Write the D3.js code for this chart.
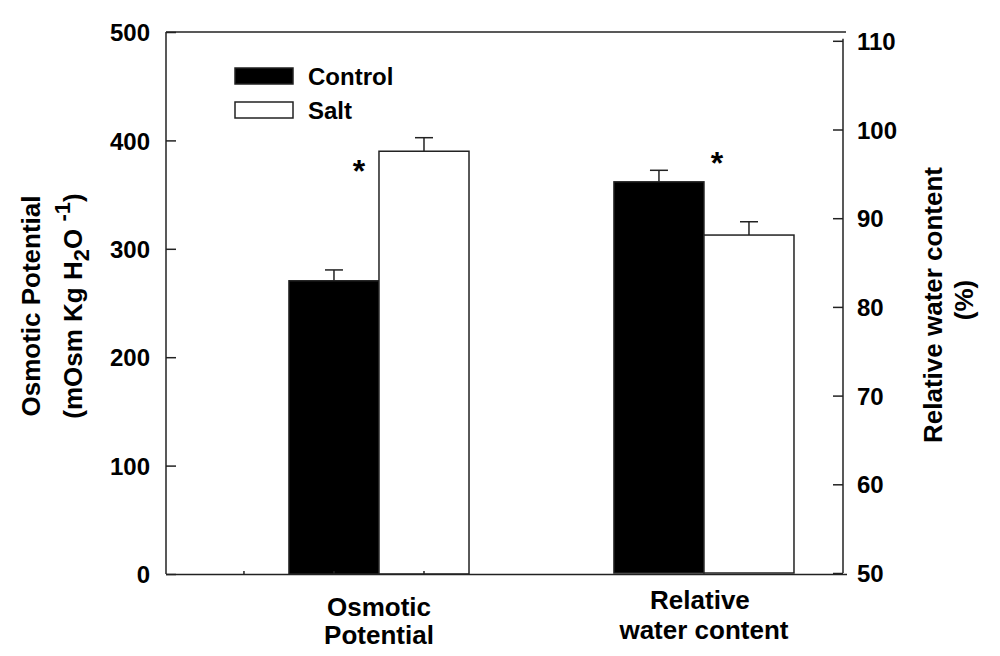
<!DOCTYPE html>
<html><head><meta charset="utf-8">
<script src="https://cdn.jsdelivr.net/npm/d3@7"></script>
<style>
body{margin:0;background:#fff}
text{font-family:"Liberation Sans",Arial,sans-serif;font-weight:bold;fill:#000}
</style>
</head><body><svg id="c" width="1000" height="656"></svg>
<script>
// ---- data ----
const categories = ["Osmotic Potential", "Relative water content"];
const categoryLabels = [["Osmotic", "Potential"], ["Relative", "water content"]];
const seriesNames = ["Control", "Salt"];
const controlValues = [270.5, 94.1];
const controlErrors = [10, 1.3];
const saltValues = [390, 88.1];
const saltErrors = [12.5, 1.5];
const leftTicks = [0, 100, 200, 300, 400, 500];
const rightTicks = [50, 60, 70, 80, 90, 100, 110];
const starLevels = [378.7, 97.1];   // asterisk heights, in each category's own axis units
const axisOf = ["left", "right"];

// ---- layout ----
const svg = d3.select("#c");
const L = 166, R = 843, T = 32, B = 574;

const yL = d3.scaleLinear().domain([0, 500]).range([B, T]);
const yR = d3.scaleLinear().domain([50, 110]).range([573, 40.8]);
const yOf = i => axisOf[i] === "left" ? yL : yR;

const x = d3.scaleBand().domain(categories).range([L, R])
  .paddingInner(0.446).paddingOuter(0.2646).align(0.715);
const xs = d3.scaleBand().domain(seriesNames).range([0, x.bandwidth()]);

const rows = [];
categories.forEach((c, i) => {
  rows.push({cat: c, i, s: "Control", v: controlValues[i], e: controlErrors[i]});
  rows.push({cat: c, i, s: "Salt", v: saltValues[i], e: saltErrors[i]});
});

// bars
svg.append("g").selectAll("rect").data(rows).join("rect")
  .attr("x", d => x(d.cat) + xs(d.s))
  .attr("width", xs.bandwidth())
  .attr("y", d => yOf(d.i)(d.v))
  .attr("height", d => yOf(d.i)(yOf(d.i).domain()[0]) - yOf(d.i)(d.v))
  .attr("fill", d => d.s === "Control" ? "#000" : "#fff")
  .attr("stroke", "#222").attr("stroke-width", 1.5);

// error bars (upper only)
const eb = svg.append("g").attr("stroke", "#222").attr("stroke-width", 1.5);
rows.forEach(d => {
  const cx = x(d.cat) + xs(d.s) + xs.bandwidth() / 2;
  const y = yOf(d.i);
  eb.append("line").attr("x1", cx).attr("x2", cx).attr("y1", y(d.v)).attr("y2", y(d.v + d.e));
  eb.append("line").attr("x1", cx - 9).attr("x2", cx + 9).attr("y1", y(d.v + d.e)).attr("y2", y(d.v + d.e));
});

// frame: top line
const fr = svg.append("g").attr("stroke", "#222").attr("stroke-width", 1.5).attr("fill", "none");
fr.append("line").attr("x1", L).attr("x2", R + 3).attr("y1", T).attr("y2", T);

// left axis (ticks inward)
const gL = svg.append("g").attr("transform", `translate(${L},0)`)
  .call(d3.axisRight(yL).tickValues(leftTicks).tickSize(10).tickFormat(d3.format("d")));
gL.select(".domain").attr("stroke", "#222").attr("stroke-width", 1.5).attr("d", `M0,${T}V${B}`);
gL.selectAll(".tick line").attr("stroke", "#222").attr("stroke-width", 1.5);
gL.selectAll(".tick text").attr("x", -16).attr("text-anchor", "end")
  .style("font-size", "24px").attr("dy", "0.36em");

// right axis (ticks inward)
const gR = svg.append("g").attr("transform", `translate(${R},0)`)
  .call(d3.axisLeft(yR).tickValues(rightTicks).tickSize(10).tickFormat(d3.format("d")));
gR.select(".domain").attr("stroke", "#222").attr("stroke-width", 1.5)
  .attr("d", `M0,${yR(110) - 2}V${yR(50)}`);
gR.selectAll(".tick line").attr("stroke", "#222").attr("stroke-width", 1.5);
gR.selectAll(".tick text").attr("x", 14).attr("text-anchor", "start")
  .style("font-size", "24px").attr("dy", "0.36em");

// bottom axis line with small inner ticks
const gB = svg.append("g").attr("stroke", "#222").attr("stroke-width", 1.5);
gB.append("line").attr("x1", L).attr("x2", R + 4).attr("y1", B + 0.5).attr("y2", B + 0.5);
const c0 = x(categories[0]);
[c0 + xs("Control") - xs.bandwidth() / 2, c0 + xs("Control") + xs.bandwidth() / 2, c0 + xs("Salt") + xs.bandwidth() / 2]
  .forEach(tx => gB.append("line").attr("x1", tx).attr("x2", tx).attr("y1", B).attr("y2", B - 3));

// category labels
const labelBase = [[615.5, 643.5], [609, 639]];
categories.forEach((c, i) => {
  categoryLabels[i].forEach((t, j) => {
    svg.append("text").attr("x", x(c) + x.bandwidth() / 2 + (i === 1 && j === 0 ? -4 : 0))
      .attr("y", labelBase[i][j]).attr("text-anchor", "middle")
      .style("font-size", "26px").text(t);
  });
});

// asterisks
categories.forEach((c, i) => {
  const off = i === 0 ? xs("Salt") - 20 : xs("Salt") + 13;
  svg.append("text").attr("x", x(c) + off).attr("y", yOf(i)(starLevels[i]) + 18.5)
    .attr("text-anchor", "middle").style("font-size", "32px").text("*");
});

// legend
const lg = svg.append("g").attr("transform", "translate(235,68)");
seriesNames.forEach((s, k) => {
  lg.append("rect").attr("x", 0).attr("y", k * 34).attr("width", 58).attr("height", 16)
    .attr("fill", s === "Control" ? "#000" : "#fff").attr("stroke", "#222").attr("stroke-width", 1.5);
  lg.append("text").attr("x", 73).attr("y", k * 34 + 16.5).style("font-size", "24px").text(s);
});

// left axis title
const lt = svg.append("text").attr("transform", "translate(39.5,306) rotate(-90)")
  .attr("text-anchor", "middle").style("font-size", "26px");
lt.append("tspan").attr("x", 0).attr("y", 0).text("Osmotic Potential");
const l2 = svg.append("text").attr("transform", "translate(82,306) rotate(-90)")
  .attr("text-anchor", "middle").style("font-size", "26px");
l2.append("tspan").text("(mOsm Kg H");
l2.append("tspan").attr("dy", 7).style("font-size", "22px").text("2");
l2.append("tspan").attr("dy", -7).text("O ");
l2.append("tspan").attr("dy", -12).style("font-size", "22px").text("-1");
l2.append("tspan").attr("dy", 12).text(")");

// right axis title
svg.append("text").attr("transform", "translate(942,305) rotate(-90)")
  .attr("text-anchor", "middle").style("font-size", "26px").text("Relative water content");
svg.append("text").attr("transform", "translate(973,300) rotate(-90)")
  .attr("text-anchor", "middle").style("font-size", "26px").text("(%)");
</script>
</body></html>
